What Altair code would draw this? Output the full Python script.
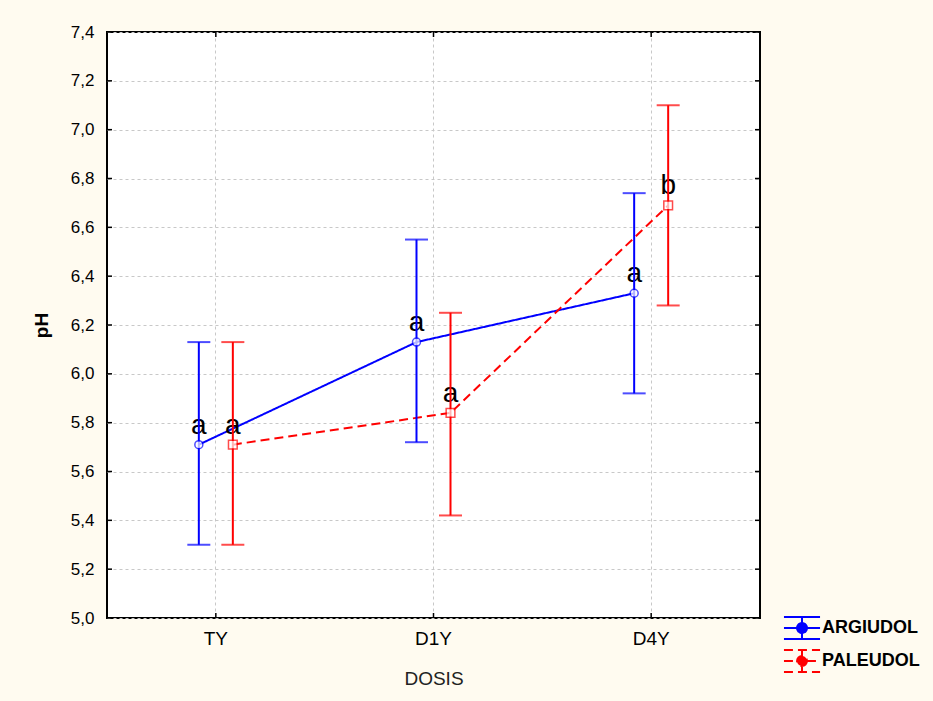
import altair as alt
import pandas as pd

# ---------------- data ----------------
dosis = ["TY", "D1Y", "D4Y"]
suelos = ["ARGIUDOL", "PALEUDOL"]

media_argiudol = [5.71, 6.13, 6.33]
inf_argiudol = [5.30, 5.72, 5.92]
sup_argiudol = [6.13, 6.55, 6.74]
letras_argiudol = ["a", "a", "a"]

media_paleudol = [5.71, 5.84, 6.69]
inf_paleudol = [5.30, 5.42, 6.28]
sup_paleudol = [6.13, 6.25, 7.10]
letras_paleudol = ["a", "a", "b"]

y_ticks = [5.0, 5.2, 5.4, 5.6, 5.8, 6.0, 6.2, 6.4, 6.6, 6.8, 7.0, 7.2, 7.4]

rows = []
for suelo, med, lo, hi, let in [
    ("ARGIUDOL", media_argiudol, inf_argiudol, sup_argiudol, letras_argiudol),
    ("PALEUDOL", media_paleudol, inf_paleudol, sup_paleudol, letras_paleudol),
]:
    for d, m, l, h, t in zip(dosis, med, lo, hi, let):
        rows.append({"Dosis": d, "Suelo": suelo, "media": m, "inf": l, "sup": h, "letra": t})
df = pd.DataFrame(rows)
df_ticks = pd.DataFrame({"v": y_ticks})
df_dosis = pd.DataFrame({"Dosis": dosis})

FONT = "Liberation Sans"
W, H = 653, 586
COLORS = ["#0000ff", "#ff0000"]

# ---------------- scales / axes ----------------
x_scale = alt.Scale(domain=dosis, paddingInner=0, paddingOuter=0)
y_scale = alt.Scale(domain=[5.0, 7.4], zero=False, nice=False)
color_scale = alt.Scale(domain=suelos, range=COLORS)
# offset sub-bands: empty slots on both sides keep the two soils close to the centre
offset_domain = ["_l1", "_l2"] + suelos + ["_r1", "_r2"]

x_axis = alt.Axis(grid=True, labelAngle=0, labelFontSize=19, labelPadding=11,
                  titleFontSize=19, titleFontWeight="normal", titleColor="#222222",
                  titleY=51, titleBaseline="top")
y_axis = alt.Axis(values=y_ticks, grid=True, labelFontSize=17, labelPadding=13,
                  labelExpr="replace(format(datum.value, '.1f'), '.', ',')",
                  titleFontSize=19, titleFontWeight="bold", titleColor="black",
                  titleX=-66, titleBaseline="middle")


def X():
    return alt.X("Dosis:N", sort=dosis, scale=x_scale, axis=x_axis, title="DOSIS")


def Y(field):
    return alt.Y(f"{field}:Q", scale=y_scale, axis=y_axis, title="pH")


xoff = alt.XOffset("Suelo:N", scale=alt.Scale(domain=offset_domain, paddingInner=0, paddingOuter=0.2))
color_noleg = alt.Color("Suelo:N", scale=color_scale, legend=None)

# legend glyph (error bar + marker) as a symbol path (1 unit = 11 px)
glyph = ("M-1.64,-1H1.64M-1.64,1H1.64M0,-1V-0.45M0,0.45V1M-1.64,0H-0.45M0.45,0H1.64"
         "M0.45,0A0.45,0.45,0,1,1,-0.45,0A0.45,0.45,0,1,1,0.45,0Z")
legend_cfg = alt.Legend(
    title=None, orient="none", legendX=683, legendY=584, padding=0,
    symbolType=glyph, symbolSize=484, symbolStrokeWidth=2, symbolFillColor="white",
    symbolDash=[1, 0],
    labelFont=FONT, labelFontSize=18, labelFontWeight="bold", labelColor="black",
    labelOffset=8, rowPadding=3,
)

base = alt.Chart(df)

# labels "a"/"b"
letters = base.mark_text(font=FONT, fontSize=28, color="black", baseline="alphabetic", dy=-11).encode(
    x=X(), xOffset=xoff, y=Y("media"), text="letra:N"
)

lines = base.mark_line(strokeWidth=2).encode(
    x=X(), xOffset=xoff, y=Y("media"),
    color=alt.Color("Suelo:N", scale=color_scale, legend=legend_cfg),
    strokeDash=alt.StrokeDash("Suelo:N", scale=alt.Scale(domain=suelos, range=[[1, 0], [9, 5]]), legend=None),
)

bars = base.mark_rule(strokeWidth=2).encode(
    x=X(), xOffset=xoff, y=Y("inf"), y2="sup:Q", color=color_noleg,
)
cap_lo = base.mark_tick(orient="horizontal", size=23, thickness=2).encode(
    x=X(), xOffset=xoff, y=Y("inf"), color=color_noleg
)
cap_hi = base.mark_tick(orient="horizontal", size=23, thickness=2).encode(
    x=X(), xOffset=xoff, y=Y("sup"), color=color_noleg
)

points_a = base.mark_point(shape="circle", size=64, filled=False, fill="white", strokeWidth=1.5).encode(
    x=X(), xOffset=xoff, y=Y("media"), color=color_noleg,
).transform_filter(alt.datum.Suelo == "ARGIUDOL")
points_p = base.mark_point(shape="square", size=76, filled=False, fill="white", strokeWidth=1.5).encode(
    x=X(), xOffset=xoff, y=Y("media"), color=color_noleg,
).transform_filter(alt.datum.Suelo == "PALEUDOL")

# inner tick marks on the frame
tk = alt.Chart(df_ticks)
tick_left = tk.mark_rule(color="black", strokeWidth=1.5).encode(y=Y("v"), x=alt.value(0), x2=alt.value(5))
tick_right = tk.mark_rule(color="black", strokeWidth=1.5).encode(y=Y("v"), x=alt.value(W - 5), x2=alt.value(W))
dk = alt.Chart(df_dosis)
tick_top = dk.mark_rule(color="black", strokeWidth=1.5).encode(x=X(), y=alt.value(0), y2=alt.value(5))
tick_bot = dk.mark_rule(color="black", strokeWidth=1.5).encode(x=X(), y=alt.value(H - 5), y2=alt.value(H))

chart = alt.layer(
    lines, letters, bars, cap_lo, cap_hi, points_a, points_p,
    tick_left, tick_right, tick_top, tick_bot,
).properties(
    width=W, height=H,
    autosize=alt.AutoSizeParams(type="none"),
    padding={"left": 107, "top": 32, "right": 173, "bottom": 83},
    background="#fffbf0",
).configure_view(
    stroke="black", strokeWidth=2, fill="white"
).configure_axis(
    gridColor="#c8c8c8", gridDash=[3, 3], gridWidth=1, domain=False, ticks=False, tickSize=0,
    labelFont=FONT, titleFont=FONT, labelColor="black",
)

chart.save("out.html", embed_options={"renderer": "svg", "actions": False})
